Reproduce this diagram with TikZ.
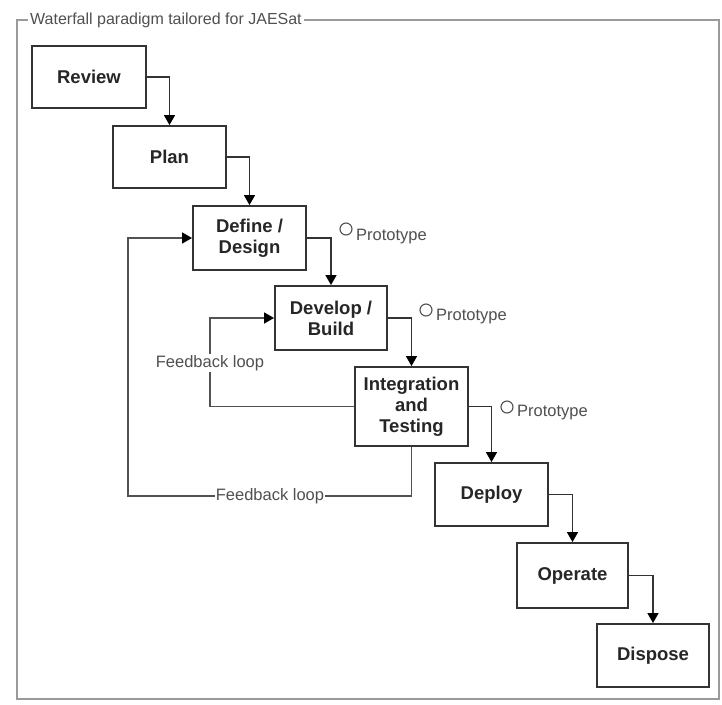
\documentclass[tikz,border=0pt]{standalone}
\usepackage{fontspec}
\setmainfont{Liberation Sans}
\usetikzlibrary{arrows.meta}
\definecolor{framegray}{HTML}{9A9A9A}
\definecolor{linegray}{HTML}{333333}
\definecolor{textgray}{HTML}{505050}
\begin{document}
\begin{tikzpicture}[x=1pt,y=-1pt,
  stage/.style={draw=linegray, line width=1.9pt, fill=white, align=center, inner sep=0pt,
    font=\bfseries\fontsize{18.5}{21}\selectfont, text=black!85},
  tip/.style={-{Triangle[length=10pt,width=11pt,color=black]}},
  flow/.style={draw=linegray, line width=1.5pt, tip},
  fb/.style={draw=linegray!85, line width=1.5pt},
  lbl/.style={font=\fontsize{16.5}{19}\selectfont, text=textgray, inner sep=1pt},
  proto/.style={circle, draw=textgray, line width=1.1pt, minimum size=12pt, inner sep=0pt}]
\useasboundingbox (0,0) rectangle (722,704);
\fill[white] (0,0) rectangle (722,704);
% frame
\draw[framegray, line width=1.4pt] (17,20) rectangle (719,699);
\node[anchor=west, fill=white, inner sep=2pt, font=\fontsize{16}{18}\selectfont, text=textgray] (title) at (28,20) {Waterfall paradigm tailored for JAESat};
% stages
\node[stage, minimum width=114pt, minimum height=62pt] (rev) at (89,77) {Review};
\node[stage, minimum width=113pt, minimum height=62pt] (pln) at (169.5,157) {Plan};
\node[stage, minimum width=113pt, minimum height=64pt] (def) at (249.5,238) {Define /\\Design};
\node[stage, minimum width=112pt, minimum height=64pt] (dev) at (331,318) {Develop /\\Build};
\node[stage, minimum width=113pt, minimum height=79pt] (int) at (411.5,406.5) {Integration\\and\\Testing};
\node[stage, minimum width=113pt, minimum height=63pt] (dep) at (491.5,494.5) {Deploy};
\node[stage, minimum width=111pt, minimum height=65pt] (opr) at (572.5,575.5) {Operate};
\node[stage, minimum width=112pt, minimum height=63pt] (dis) at (653,655.5) {Dispose};
% flow arrows
\draw[flow] (rev.east) -| (pln.north);
\draw[flow] (pln.east) -| (def.north);
\draw[flow] (def.east) -| (dev.north);
\draw[flow] (dev.east) -| (int.north);
\draw[flow] (int.east) -| (dep.north);
\draw[flow] (dep.east) -| (opr.north);
\draw[flow] (opr.east) -| (dis.north);
% feedback loops
\coordinate (in1) at (210,406.5);
\coordinate (ou1) at (411.5,496);
\coordinate (ou2) at (128,496);
\draw[fb, tip] (int.west) -- (in1) |- (dev.west);
\draw[fb, tip] (int.south) -- (ou1) -- (ou2) |- (def.west);
\node[lbl, fill=white] (fbl1) at (210,363) {Feedback loop};
\node[lbl, fill=white] (fbl2) at (270,496) {Feedback loop};
% prototypes
\node[proto] (c1) at (346,229) {};
\node[lbl, anchor=west] (p1) at (355,237) {Prototype};
\node[proto] (c2) at (426,310) {};
\node[lbl, anchor=west] (p2) at (435,317) {Prototype};
\node[proto] (c3) at (507,407) {};
\node[lbl, anchor=west] (p3) at (516,413) {Prototype};
\end{tikzpicture}
\end{document}
